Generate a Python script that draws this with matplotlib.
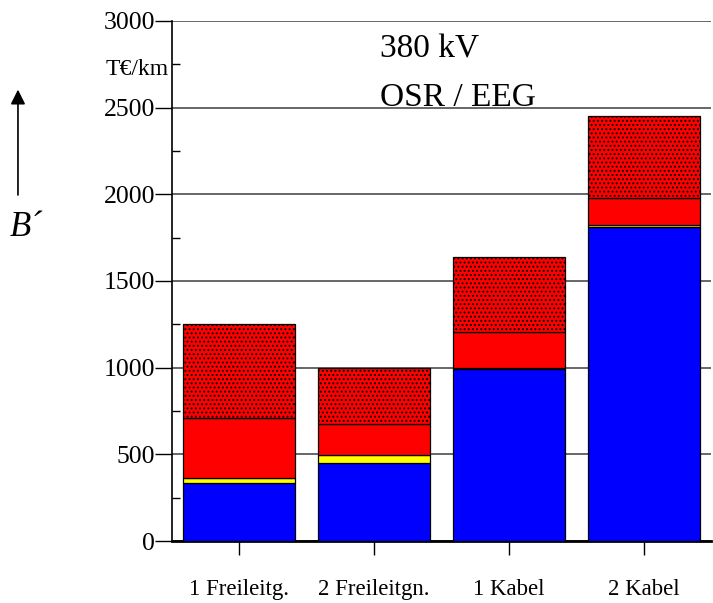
import matplotlib

matplotlib.use("Agg")
import matplotlib.pyplot as plt
from matplotlib.patches import FancyArrowPatch
from matplotlib.ticker import MultipleLocator

plt.rcParams["font.family"] = ["Liberation Serif", "DejaVu Serif"]
plt.rcParams["hatch.linewidth"] = 0.9

categories = ["1 Freileitg.", "2 Freileitgn.", "1 Kabel", "2 Kabel"]
blue_part = [333, 450, 990, 1810]
yellow_part = [29, 44, 6, 15]
red_part = [348, 183, 208, 156]
dotted_part = [540, 323, 436, 469]

fig = plt.figure(figsize=(7.13, 6.03), dpi=100)
ax = fig.add_axes([0.2412, 0.1028, 0.7560, 0.8624])

x = list(range(len(categories)))
width = 0.83
bottom = [0] * len(x)
layers = [
    (blue_part, "#0000ff", None),
    (yellow_part, "#ffff00", None),
    (red_part, "#ff0000", None),
    (dotted_part, "#ff0000", "...."),
]
for vals, color, hatch in layers:
    ax.bar(x, vals, width, bottom=bottom, color=color, edgecolor="black",
           linewidth=0.9, hatch=hatch, zorder=3)
    bottom = [b + v for b, v in zip(bottom, vals)]

ax.set_xlim(-0.5, 3.5)
ax.set_ylim(0, 3000)
ax.yaxis.set_major_locator(MultipleLocator(500))
ax.yaxis.set_minor_locator(MultipleLocator(250))
ax.set_xticks(x)
ax.set_xticklabels(categories, fontsize=16.5)
ax.tick_params(axis="x", direction="out", length=10, width=1, pad=17)
ax.tick_params(axis="y", which="major", direction="out", length=12, width=1, labelsize=18.5, pad=0)
ax.tick_params(axis="y", which="minor", direction="in", length=6, width=1)
ax.grid(axis="y", which="major", color="0.3", linewidth=1.2, zorder=0)

for side in ["top", "right"]:
    ax.spines[side].set_visible(False)
ax.spines["left"].set_linewidth(1.2)
ax.spines["bottom"].set_linewidth(2)

# unit label sits just left of the axis, between the 3000 and 2500 ticks
ax.text(-0.006, 2720, "T€/km", fontsize=17, ha="right", va="center",
        transform=ax.get_yaxis_transform())
ax.text(0.385, 0.945, "380 kV", transform=ax.transAxes, fontsize=24, va="center")
ax.text(0.385, 0.853, "OSR / EEG", transform=ax.transAxes, fontsize=24, va="center")

fig.text(0.013, 0.622, "B\u00b4", fontsize=25, style="italic", ha="left", va="center")
fig.patches.append(FancyArrowPatch(
    (0.0252, 0.672), (0.0252, 0.856), transform=fig.transFigure,
    arrowstyle="-|>", mutation_scale=22, color="black", linewidth=1.2))

fig.savefig("out.png", dpi=100)
